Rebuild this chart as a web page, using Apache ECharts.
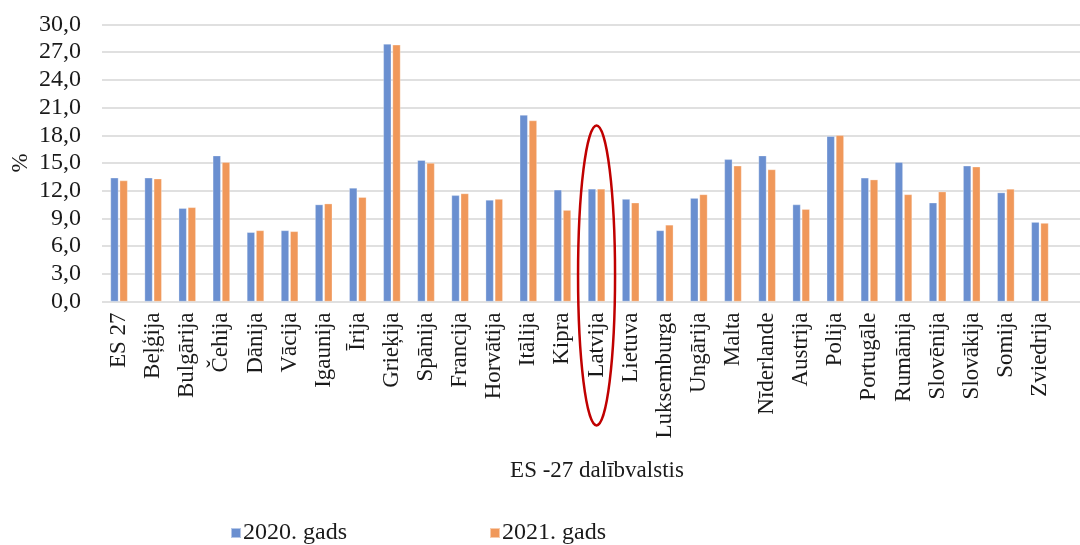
<!DOCTYPE html>
<html>
<head>
<meta charset="utf-8">
<script src="https://cdn.jsdelivr.net/npm/echarts@6/dist/echarts.min.js"></script>
<style>
  html, body { margin: 0; padding: 0; background: #fff; }
  #chart { width: 1080px; height: 545px; }
</style>
</head>
<body>
<div id="chart"></div>
<script>
// ES-27 member states
const categories = ['ES 27', 'Beļģija', 'Bulgārija', 'Čehija', 'Dānija', 'Vācija', 'Igaunija', 'Īrija',
  'Grieķija', 'Spānija', 'Francija', 'Horvātija', 'Itālija', 'Kipra', 'Latvija', 'Lietuva',
  'Luksemburga', 'Ungārija', 'Malta', 'Nīderlande', 'Austrija', 'Polija', 'Portugāle',
  'Rumānija', 'Slovēnija', 'Slovākija', 'Somija', 'Zviedrija'];

const values2020 = [13.4, 13.4, 10.1, 15.8, 7.5, 7.7, 10.5, 12.3, 27.9, 15.3, 11.5, 11.0, 20.2, 12.1,
  12.2, 11.1, 7.7, 11.2, 15.4, 15.8, 10.5, 17.9, 13.4, 15.1, 10.7, 14.7, 11.8, 8.6];

const values2021 = [13.1, 13.3, 10.2, 15.1, 7.7, 7.6, 10.6, 11.3, 27.8, 15.0, 11.7, 11.1, 19.6, 9.9,
  12.2, 10.7, 8.3, 11.6, 14.7, 14.3, 10.0, 18.0, 13.2, 11.6, 11.9, 14.6, 12.2, 8.5];

const seriesNames = ['2020. gads', '2021. gads'];
const highlighted = 'Latvija';

const FONT = '"Liberation Serif", "Times New Roman", serif';
const TEXT = '#1a1a1a';

const chart = echarts.init(document.getElementById('chart'), null, { renderer: 'canvas' });

const option = {
  animation: false,
  backgroundColor: '#ffffff',
  textStyle: { fontFamily: FONT, color: TEXT },
  grid: [
    // full-width grid carrying the horizontal gridlines
    { left: 102, right: 0, top: 24.5, bottom: 243.5, containLabel: false, outerBoundsMode: 'none' },
    // plot grid carrying the bars
    { left: 102, right: 23, top: 24.5, bottom: 243.5, containLabel: false, outerBoundsMode: 'none' }
  ],
  legend: {
    data: seriesNames,
    left: 225,
    top: 516,
    icon: 'rect',
    itemWidth: 10,
    itemHeight: 10,
    itemGap: 142,
    textStyle: { fontFamily: FONT, fontSize: 24, color: TEXT, padding: [0, 0, 0, -3] }
  },
  xAxis: [
    { gridIndex: 0, type: 'value', show: false, min: 0, max: 1 },
    {
      gridIndex: 1,
      type: 'category',
      data: categories,
      axisLine: { show: false },
      axisTick: { show: false },
      axisLabel: {
        rotate: 90,
        interval: 0,
        margin: 11,
        fontFamily: FONT,
        fontSize: 23,
        color: TEXT
      },
      name: 'ES -27 dalībvalstis',
      nameLocation: 'middle',
      nameGap: 158,
      nameMoveOverlap: false,
      nameTextStyle: { fontFamily: FONT, fontSize: 23, color: TEXT, padding: [0, 0, 0, 35] }
    }
  ],
  yAxis: [
    {
      gridIndex: 0,
      type: 'value',
      min: 0,
      max: 30,
      interval: 3,
      axisLine: { show: false },
      axisTick: { show: false },
      axisLabel: { show: false },
      splitLine: { show: true, lineStyle: { color: '#d6d6d6', width: 1.6 } }
    },
    {
      gridIndex: 1,
      type: 'value',
      min: 0,
      max: 30,
      interval: 3,
      axisLine: { show: false },
      axisTick: { show: false },
      splitLine: { show: false },
      axisLabel: {
        margin: 21,
        fontFamily: FONT,
        fontSize: 24,
        color: TEXT,
        formatter: v => v.toFixed(1).replace('.', ',')
      },
      name: '%',
      nameLocation: 'middle',
      nameRotate: 90,
      nameGap: 70,
      nameMoveOverlap: false,
      nameTextStyle: { fontFamily: FONT, fontSize: 23, color: TEXT }
    }
  ],
  series: [
    {
      name: seriesNames[0],
      type: 'bar',
      xAxisIndex: 1,
      yAxisIndex: 1,
      data: values2020,
      barWidth: 8,
      barGap: '15%',
      itemStyle: { color: '#6a8fd0', borderColor: 'rgba(255,255,255,0.5)', borderWidth: 0.6 }
    },
    {
      name: seriesNames[1],
      type: 'bar',
      xAxisIndex: 1,
      yAxisIndex: 1,
      data: values2021,
      barWidth: 8,
      barGap: '15%',
      itemStyle: { color: '#f0985a', borderColor: 'rgba(255,255,255,0.5)', borderWidth: 0.6 }
    }
  ]
};

chart.setOption(option);

// red ellipse marking the highlighted country, placed from the axis scale
const base = chart.convertToPixel({ xAxisIndex: 1, yAxisIndex: 1 }, [highlighted, 0]);
chart.setOption({
  graphic: [{
    type: 'ellipse',
    z: 100,
    shape: { cx: base[0], cy: base[1] - 26, rx: 18.5, ry: 150 },
    style: { fill: 'none', stroke: '#c00000', lineWidth: 2.5 }
  }]
});
</script>
</body>
</html>
